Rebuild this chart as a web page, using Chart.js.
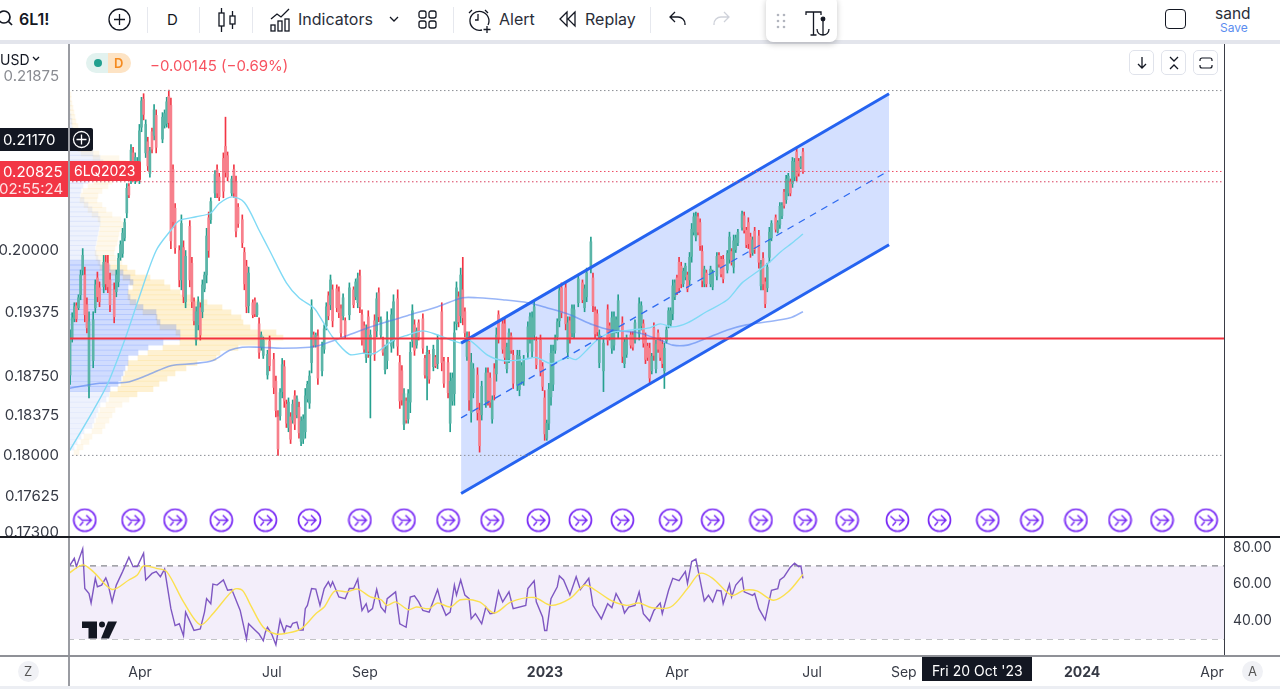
<!DOCTYPE html>
<html lang="en">
<head>
<meta charset="UTF-8">
<title>6L1! D</title>
<script src="https://cdn.jsdelivr.net/npm/chart.js@4"></script>
<style>
  html, body { margin: 0; padding: 0; background: #fff; overflow: hidden; }
  body { width: 1280px; height: 689px; position: relative; font-family: Inter, "Noto Sans", sans-serif; color: #131722; }
  canvas { position: absolute; display: block; }
  .t { position: absolute; white-space: nowrap; line-height: 1; }
  .box { position: absolute; }
  svg { position: absolute; overflow: visible; fill: none; stroke: #131722; stroke-width: 1.3; }
  .sep { position: absolute; top: 7px; width: 1px; height: 26px; background: #e6e8ee; }
  .btn { position: absolute; top: 50px; width: 25px; height: 25px; border: 1px solid #e0e3eb; border-radius: 5px; box-sizing: border-box; }
</style>
</head>
<body>
<canvas id="profile" width="1224" height="492" style="left:0;top:45px"></canvas>
<canvas id="main" width="1224" height="492" style="left:0;top:45px"></canvas>
<canvas id="rsi" width="1280" height="153" style="left:0;top:536px"></canvas>

<!-- top bar -->
<div class="box" style="left:0;top:40px;width:1280px;height:4px;background:#e3e5ec"></div>
<svg style="left:0;top:0" width="20" height="30"><circle cx="4" cy="17" r="6" stroke-width="1.7"/><path d="M8.500 21.500L12 25" stroke-width="1.7"/></svg>
<div class="t" style="left:19px;top:11px;font-size:16px;font-weight:600">6L1!</div>
<svg style="left:108px;top:8px" width="23" height="23"><circle cx="11.500" cy="11.500" r="10.500"/><path d="M11.500 6v11M6 11.500h11"/></svg>
<div class="sep" style="left:147px"></div>
<div class="t" style="left:167px;top:12px;font-size:15px">D</div>
<div class="sep" style="left:199px"></div>
<svg style="left:217px;top:7px" width="20" height="26"><rect x="2" y="6" width="5" height="13"/><path d="M4.500 1v5M4.500 19v6"/><rect x="13" y="9" width="5" height="8"/><path d="M15.500 4v5M15.500 17v5"/></svg>
<div class="sep" style="left:252px"></div>
<svg style="left:270px;top:8px" width="22" height="24"><path d="M1 11l6-5 4 3 8-8"/><rect x="1" y="17" width="4" height="6"/><rect x="8" y="13" width="4" height="10"/><rect x="15" y="11" width="4" height="12"/></svg>
<div class="t" style="left:298px;top:11px;font-size:16px;color:#2a2e39">Indicators</div>
<svg style="left:389px;top:16px" width="10" height="6"><path d="M1 1l4 4 4-4"/></svg>
<svg style="left:418px;top:10px" width="20" height="20"><rect x="1" y="1" width="7" height="7" rx="2"/><rect x="11" y="1" width="7" height="7" rx="2"/><rect x="1" y="11" width="7" height="7" rx="2"/><rect x="11" y="11" width="7" height="7" rx="2"/></svg>
<div class="sep" style="left:453px"></div>
<svg style="left:469px;top:8px" width="24" height="26"><path d="M13 22a9.500 9.500 0 1 1 6-5M3 2L0 5M16 2l3 3M9 6v6H6M18 18v7M14.500 21.500h7"/></svg>
<div class="t" style="left:499px;top:11px;font-size:16px;color:#2a2e39">Alert</div>
<svg style="left:559px;top:11px" width="18" height="16"><path d="M8 1L1 8l7 7zM16 1L9 8l7 7z"/></svg>
<div class="t" style="left:585px;top:11px;font-size:16px;color:#2a2e39">Replay</div>
<div class="sep" style="left:650px"></div>
<svg style="left:669px;top:11px" width="18" height="16"><path d="M6 1L1 6l5 5M1 6h8a7 7 0 0 1 7 7v1"/></svg>
<svg style="left:712px;top:11px" width="18" height="16"><path d="M12 1l5 5-5 5M17 6H9a7 7 0 0 0-7 7v1" stroke="#cfd2da"/></svg>
<div class="box" style="left:766px;top:-4px;width:71px;height:46px;background:#fff;border-radius:7px;box-shadow:0 2px 6px rgba(0,0,0,.22)"></div>
<svg style="left:776px;top:13px" width="10" height="16"><g fill="#b2b5be" stroke="none"><circle cx="2" cy="2" r="1.300"/><circle cx="8" cy="2" r="1.300"/><circle cx="2" cy="8" r="1.300"/><circle cx="8" cy="8" r="1.300"/><circle cx="2" cy="14" r="1.300"/><circle cx="8" cy="14" r="1.300"/></g></svg>
<svg style="left:805px;top:11px" width="25" height="26"><path d="M1 4V1h15v3M8.500 1v23M5.500 24h6M18 10v14M12 18c0 4 3 6 6 6s6-2 6-6"/><circle cx="18" cy="8" r="1.800" fill="#131722"/></svg>
<div class="box" style="left:1165px;top:9px;width:21px;height:20px;border:1.500px solid #131722;border-radius:4px;box-sizing:border-box"></div>
<div class="t" style="left:1215px;top:6px;font-size:15.500px;color:#2a2e39">sand</div>
<div class="t" style="left:1220px;top:22px;font-size:12px;color:#5b8def">Save</div>

<!-- main pane overlays -->
<div class="t" style="left:0;top:53px;font-size:14px;background:#fff;padding:0 3px 0 0">USD</div>
<svg style="left:32px;top:56px" width="8" height="5"><path d="M1 1l3 3 3-3"/></svg>
<div class="box" style="left:86px;top:53px;width:22px;height:20px;background:#e2f2ef;border-radius:10px 0 0 10px"></div>
<div class="box" style="left:108px;top:53px;width:23px;height:20px;background:#fde3c4;border-radius:0 10px 10px 0"></div>
<div class="box" style="left:94px;top:59px;width:8px;height:8px;background:#22a08f;border-radius:50%"></div>
<div class="t" style="left:114px;top:57px;font-size:13px;font-weight:600;color:#f58a1f">D</div>
<div class="t" style="left:150px;top:58px;font-size:15px;color:#f7525f">−0.00145 (−0.69%)</div>
<div class="btn" style="left:1129px"></div>
<svg style="left:1136px;top:57px" width="12" height="12"><path d="M6 0v11M2 7l4 4 4-4"/></svg>
<div class="btn" style="left:1161px"></div>
<svg style="left:1168px;top:56px" width="12" height="14"><path d="M2 1l4 4 4-4M2 13l4-4 4 4"/></svg>
<div class="btn" style="left:1193px"></div>
<svg style="left:1199px;top:57px" width="14" height="12"><path d="M1 4V3a2 2 0 0 1 2-2h8a2 2 0 0 1 2 2v1M1 8v1a2 2 0 0 0 2 2h8a2 2 0 0 0 2-2V8" stroke-width="1.200"/></svg>

<div class="box" style="left:0;top:128px;width:93px;height:23px;background:#131722;border-radius:0 2px 2px 0"></div>
<div class="t" style="left:3px;top:132px;font-size:15px;color:#fff">0.21170</div>
<div class="box" style="left:68px;top:128px;width:1px;height:23px;background:#555"></div>
<svg style="left:73px;top:131px" width="17" height="17"><g style="stroke:#fff"><circle cx="8.500" cy="8.500" r="8"/><path d="M8.500 3.500v10M3.500 8.500h10"/></g></svg>
<div class="box" style="left:0;top:161px;width:68px;height:36px;background:#f23645"></div>
<div class="box" style="left:69px;top:161px;width:72px;height:20px;background:#f23645;border-radius:0 2px 2px 0"></div>
<div class="t" style="left:3px;top:164px;font-size:15px;color:#fff">0.20825</div>
<div class="t" style="left:-1px;top:181px;font-size:15px;color:#fde1e4">02:55:24</div>
<div class="t" style="left:74px;top:164px;font-size:14px;color:#fff">6LQ2023</div>

<!-- watermark -->
<svg style="left:82px;top:621px" width="36" height="18"><g fill="#131722" stroke="#f3eefa" stroke-width="0"><path d="M0 0.500h15v17H6.500V7H0z"/><circle cx="20" cy="3.500" r="3"/><path d="M26 0.500h9l-8 17h-8z"/></g></svg>

<!-- frame -->
<div class="box" style="left:68px;top:44px;width:1.500px;height:645px;background:#9a9ca2"></div>
<div class="box" style="left:1224px;top:44px;width:1px;height:611px;background:#3a3d46"></div>
<div class="box" style="left:0;top:536px;width:1280px;height:1.500px;background:#1a1c22"></div>
<div class="box" style="left:0;top:655px;width:1280px;height:1.500px;background:#8f9197"></div>
<div class="box" style="left:0;top:686px;width:1280px;height:3px;background:#eceef3"></div>

<!-- bottom bar -->
<div class="box" style="left:18px;top:661px;width:21px;height:21px;border-radius:50%;background:#f0f1f5"></div>
<div class="t" style="left:24px;top:665px;font-size:13px;color:#555">Z</div>
<div class="box" style="left:1242px;top:661px;width:21px;height:21px;border-radius:50%;background:#f0f1f5"></div>
<div class="t" style="left:1248px;top:665px;font-size:13px;color:#555">A</div>
<div class="box" style="left:922px;top:657px;width:110px;height:24px;background:#131722"></div>
<div class="t" style="left:932px;top:664px;font-size:14px;color:#fff">Fri 20 Oct '23</div>

<script>
// price axis
const priceTicks = [0.21875, 0.2, 0.19375, 0.1875, 0.18375, 0.18, 0.17625, 0.173];
const priceMin = 0.1726, priceMax = 0.2223;
const lastSession = 550.5;

// time axis, in trading sessions from the left edge
const xTickSessions = [34.3, 97.1, 141.4, 227.1, 290, 354.3, 398, 482.9, 544.8];
const xTickLabels = ['Apr', 'Jul', 'Sep', '2023', 'Apr', 'Jul', 'Sep', '2024', 'Apr'];

// candles
const candleSession = [
1,2,3,4,5,6,7,8,9,10,12,13,14,15,17,18,19,20,22,23,
24,25,26,27,28,29,30,31,32,33,34,35,36,37,38,39,40,41,42,45,
46,47,48,49,50,51,53,54,55,56,58,59,60,61,62,63,64,65,66,67,
68,70,71,72,74,75,76,78,79,80,81,83,84,85,86,88,89,90,91,92,
93,95,96,98,99,100,101,102,103,104,105,106,107,108,109,110,111,112,113,114,
115,116,117,118,119,121,122,123,124,125,126,128,129,130,131,132,134,136,137,138,
139,140,141,142,143,144,146,147,148,149,150,151,152,154,155,157,158,159,160,161,
162,163,164,165,166,167,169,170,171,172,174,175,176,178,179,181,182,183,184,185,
186,187,188,189,190,191,192,193,195,196,197,199,200,201,202,203,204,205,207,208,
209,210,211,212,214,215,216,217,219,220,221,222,223,225,226,227,228,229,230,231,
232,233,234,235,237,238,239,240,241,243,245,246,247,249,250,251,252,253,255,257,
258,259,260,261,262,264,265,266,268,269,270,272,273,274,275,276,277,278,279,280,
281,282,283,284,285,286,287,288,289,290,291,292,293,294,295,296,297,298,299,300,
301,302,303,304,306,307,309,310,311,312,314,315,316,317,318,319,321,322,323,324,
325,326,327,329,330,331,332,333,334,335,337,338,339,340,341,342,343,344,345,346,
347,348,349,350];
const candleHigh = [
.1920,.1937,.1947,.1947,.1955,.1980,.2002,.1983,.1952,.1938,.1938,.1970,.1978,.1968,.1995,.1995,.1995,.1977,.1967,.1980,
.1997,.2010,.2023,.2033,.2070,.2070,.2112,.2109,.2103,.2098,.2134,.2164,.2168,.2139,.2120,.2109,.2130,.2156,.2150,.2147,
.2150,.2164,.2172,.2163,.2090,.2049,.2005,.2037,.2010,.2000,.2031,.1993,.1952,.1943,.1953,.1947,.1970,.1978,.2023,.2040,
.2055,.2084,.2090,.2081,.2103,.2142,.2104,.2078,.2090,.2078,.2049,.2037,.2003,.1990,.1983,.1950,.1952,.1947,.1932,.1918,
.1913,.1900,.1914,.1897,.1875,.1842,.1863,.1892,.1890,.1852,.1854,.1840,.1852,.1861,.1856,.1850,.1836,.1838,.1863,.1870,
.1880,.1950,.1918,.1917,.1920,.1908,.1925,.1947,.1958,.1975,.1965,.1965,.1963,.1945,.1956,.1932,.1967,.1963,.1971,.1977,
.1980,.1940,.1928,.1925,.1939,.1920,.1935,.1957,.1962,.1933,.1913,.1905,.1938,.1941,.1955,.1960,.1895,.1885,.1863,.1854,
.1862,.1908,.1945,.1930,.1922,.1930,.1936,.1895,.1904,.1900,.1905,.1895,.1915,.1947,.1893,.1893,.1878,.1878,.1928,.1968,
.1958,.1982,.1993,.1942,.1918,.1918,.1897,.1887,.1883,.1849,.1870,.1883,.1883,.1878,.1856,.1887,.1922,.1939,.1930,.1932,
.1907,.1921,.1917,.1900,.1900,.1900,.1888,.1895,.1928,.1937,.1938,.1948,.1913,.1915,.1888,.1861,.1833,.1868,.1905,.1905,
.1915,.1931,.1965,.1967,.1968,.1933,.1933,.1945,.1945,.1975,.1970,.1965,.1982,.2014,.1977,.1943,.1940,.1920,.1912,.1945,
.1927,.1938,.1938,.1933,.1955,.1933,.1912,.1915,.1918,.1918,.1930,.1952,.1948,.1930,.1917,.1907,.1907,.1897,.1927,.1910,
.1920,.1912,.1910,.1907,.1923,.1942,.1942,.1970,.1970,.1975,.1993,.1988,.1982,.1987,.1978,.1998,.2028,.2039,.2040,.2039,
.2033,.2005,.1984,.1980,.1984,.1980,.1998,.1998,.1994,.1995,.2000,.2019,.2002,.2016,.2016,.2022,.2041,.2040,.2024,.2034,
.2018,.2014,.2024,.2021,.1990,.1998,.1972,.1987,.2024,.2031,.2037,.2031,.2050,.2050,.2064,.2079,.2081,.2075,.2098,.2097,
.2109,.2097,.2099,.2108];
const candleLow = [
.1867,.1908,.1928,.1928,.1940,.1950,.1975,.1928,.1917,.1854,.1883,.1937,.1948,.1943,.1957,.1960,.1957,.1938,.1927,.1953,
.1963,.1990,.1993,.2010,.2034,.2055,.2070,.2073,.2070,.2073,.2070,.2126,.2139,.2098,.2084,.2077,.2103,.2117,.2103,.2114,
.2130,.2131,.2130,.2002,.2024,.1997,.1963,.1960,.1947,.1942,.1963,.1942,.1925,.1905,.1920,.1910,.1932,.1958,.1967,.1993,
.2028,.2055,.2055,.2052,.2055,.2077,.2073,.2057,.2055,.2014,.2024,.2003,.1960,.1937,.1937,.1932,.1933,.1933,.1892,.1900,
.1892,.1872,.1880,.1858,.1836,.1800,.1833,.1854,.1845,.1826,.1822,.1811,.1830,.1824,.1835,.1816,.1809,.1811,.1816,.1850,
.1844,.1878,.1903,.1903,.1867,.1875,.1897,.1920,.1930,.1940,.1923,.1938,.1932,.1913,.1930,.1912,.1930,.1942,.1950,.1942,
.1937,.1905,.1897,.1888,.1893,.1835,.1890,.1913,.1928,.1912,.1895,.1877,.1882,.1898,.1902,.1895,.1844,.1847,.1824,.1830,
.1830,.1840,.1903,.1895,.1902,.1910,.1897,.1873,.1852,.1868,.1880,.1883,.1882,.1880,.1864,.1854,.1822,.1847,.1847,.1920,
.1923,.1927,.1925,.1913,.1890,.1842,.1831,.1854,.1833,.1803,.1833,.1845,.1847,.1845,.1830,.1852,.1870,.1907,.1897,.1887,
.1878,.1888,.1897,.1863,.1861,.1856,.1867,.1866,.1893,.1907,.1893,.1910,.1882,.1875,.1861,.1814,.1814,.1824,.1847,.1861,
.1897,.1910,.1923,.1932,.1920,.1892,.1907,.1913,.1912,.1943,.1947,.1938,.1948,.1977,.1938,.1912,.1914,.1883,.1860,.1905,
.1910,.1897,.1900,.1917,.1912,.1888,.1883,.1893,.1902,.1900,.1907,.1910,.1920,.1903,.1887,.1890,.1868,.1877,.1890,.1878,
.1898,.1890,.1883,.1863,.1907,.1922,.1923,.1930,.1950,.1955,.1957,.1962,.1963,.1970,.1958,.1965,.1988,.2016,.2010,.2016,
.2000,.1963,.1963,.1963,.1963,.1960,.1970,.1983,.1973,.1967,.1977,.1987,.1985,.1977,.1998,.2005,.2021,.2018,.2003,.2002,
.1993,.1995,.1997,.1982,.1960,.1960,.1942,.1958,.1988,.2010,.2019,.2018,.2023,.2033,.2044,.2049,.2057,.2057,.2066,.2073,
.2073,.2078,.2086,.2081];
const candleOpen = [
.1876,.1912,.1931,.1944,.1942,.1955,.1980,.1975,.1945,.1865,.1890,.1942,.1972,.1962,.1963,.1988,.1987,.1970,.1960,.1958,
.1968,.1993,.1997,.2013,.2039,.2067,.2076,.2103,.2075,.2077,.2078,.2131,.2162,.2103,.2115,.2081,.2126,.2122,.2144,.2118,
.2133,.2135,.2165,.2155,.2085,.2044,.2000,.1970,.2003,.1948,.2025,.1987,.1948,.1910,.1925,.1942,.1938,.1961,.1975,.2034,
.2032,.2060,.2085,.2077,.2097,.2110,.2100,.2060,.2085,.2072,.2045,.2032,.1998,.1984,.1944,.1947,.1949,.1935,.1926,.1903,
.1895,.1876,.1909,.1891,.1870,.1836,.1837,.1860,.1884,.1848,.1826,.1836,.1833,.1856,.1838,.1845,.1813,.1815,.1822,.1853,
.1849,.1888,.1915,.1905,.1914,.1880,.1901,.1924,.1954,.1945,.1960,.1961,.1958,.1941,.1934,.1929,.1935,.1960,.1953,.1947,
.1974,.1935,.1924,.1893,.1933,.1895,.1929,.1919,.1957,.1915,.1910,.1881,.1890,.1904,.1909,.1951,.1888,.1880,.1829,.1851,
.1834,.1850,.1909,.1925,.1905,.1927,.1931,.1892,.1875,.1896,.1884,.1893,.1887,.1938,.1889,.1888,.1830,.1851,.1858,.1926,
.1953,.1934,.1960,.1938,.1894,.1908,.1840,.1859,.1876,.1842,.1838,.1850,.1878,.1873,.1834,.1882,.1877,.1935,.1926,.1926,
.1882,.1892,.1914,.1895,.1866,.1862,.1870,.1870,.1898,.1911,.1899,.1915,.1909,.1910,.1884,.1854,.1816,.1830,.1855,.1867,
.1900,.1913,.1929,.1962,.1962,.1898,.1929,.1917,.1917,.1947,.1967,.1942,.1953,.1982,.1972,.1939,.1936,.1888,.1880,.1940,
.1924,.1902,.1905,.1920,.1918,.1927,.1887,.1896,.1915,.1915,.1910,.1916,.1924,.1926,.1913,.1904,.1902,.1880,.1922,.1882,
.1917,.1909,.1906,.1880,.1909,.1925,.1926,.1936,.1953,.1972,.1988,.1984,.1966,.1973,.1975,.1970,.1994,.2019,.2014,.2035,
.2029,.1999,.1966,.1977,.1966,.1963,.1974,.1995,.1991,.1991,.1980,.1991,.1999,.1983,.2001,.2008,.2024,.2036,.2021,.2029,
.2014,.1998,.2020,.2015,.1964,.1992,.1968,.1962,.1993,.2013,.2034,.2020,.2027,.2036,.2061,.2053,.2060,.2072,.2070,.2077,
.2104,.2094,.2088,.2104];
const candleClose = [
.1912,.1932,.1943,.1931,.1952,.1975,.1995,.1935,.1922,.1928,.1930,.1965,.1953,.1948,.1988,.1966,.1963,.1945,.1933,.1975,
.1992,.2006,.2018,.2029,.2065,.2058,.2106,.2078,.2098,.2094,.2127,.2160,.2145,.2134,.2089,.2105,.2107,.2150,.2109,.2142,
.2146,.2159,.2136,.2010,.2030,.2003,.1970,.2028,.1953,.1994,.1970,.1948,.1929,.1938,.1948,.1915,.1965,.1975,.2015,.2000,
.2051,.2080,.2060,.2056,.2062,.2082,.2077,.2075,.2060,.2020,.2028,.2008,.1966,.1943,.1977,.1935,.1936,.1945,.1898,.1915,
.1910,.1896,.1885,.1864,.1842,.1806,.1859,.1886,.1851,.1830,.1850,.1815,.1848,.1829,.1853,.1821,.1832,.1834,.1856,.1867,
.1875,.1940,.1905,.1915,.1873,.1903,.1921,.1943,.1934,.1970,.1929,.1942,.1937,.1917,.1952,.1915,.1962,.1945,.1968,.1972,
.1943,.1910,.1901,.1920,.1899,.1915,.1896,.1951,.1933,.1930,.1898,.1901,.1930,.1935,.1948,.1904,.1851,.1852,.1858,.1833,
.1858,.1898,.1939,.1900,.1919,.1913,.1902,.1876,.1898,.1872,.1901,.1885,.1910,.1888,.1868,.1859,.1870,.1873,.1917,.1962,
.1928,.1975,.1932,.1917,.1914,.1852,.1888,.1882,.1840,.1809,.1865,.1878,.1852,.1850,.1852,.1857,.1915,.1911,.1901,.1893,
.1903,.1917,.1900,.1868,.1895,.1894,.1885,.1891,.1923,.1933,.1932,.1943,.1886,.1880,.1865,.1820,.1830,.1862,.1897,.1899,
.1912,.1928,.1959,.1937,.1926,.1927,.1911,.1941,.1940,.1971,.1950,.1961,.1977,.2009,.1944,.1916,.1918,.1915,.1907,.1910,
.1913,.1932,.1933,.1930,.1949,.1894,.1908,.1912,.1905,.1903,.1927,.1946,.1944,.1907,.1891,.1893,.1873,.1894,.1895,.1906,
.1901,.1893,.1887,.1902,.1920,.1939,.1939,.1964,.1967,.1958,.1962,.1966,.1979,.1984,.1961,.1993,.2022,.2035,.2036,.2019,
.2005,.1969,.1981,.1966,.1981,.1977,.1994,.1986,.1976,.1971,.1997,.2014,.1988,.2010,.2013,.2019,.2038,.2021,.2006,.2007,
.1997,.2011,.2001,.1988,.1986,.1966,.1946,.1983,.2019,.2028,.2022,.2029,.2046,.2047,.2047,.2075,.2078,.2060,.2094,.2093,
.2078,.2081,.2097,.2083];

// moving averages
const fastMaSession = [0,12,19,27,34,42,49,53,61,68,72,78,84,91,96,104,110,117,120,126,134,140,146,155,162,169,176,187,191,200,207,217,223,230,238,242,247,252,258,269,277,282,288,295,304,314,321,328,334,339,345,350];
const fastMaValue = [.1802,.1842,.1868,.1910,.1953,.2000,.2021,.2031,.2035,.2039,.2049,.2056,.2050,.2021,.2000,.1967,.1952,.1942,.1933,.1913,.1896,.1897,.1897,.1910,.1915,.1919,.1915,.1907,.1910,.1895,.1890,.1891,.1893,.1887,.1893,.1891,.1900,.1910,.1917,.1920,.1922,.1926,.1923,.1927,.1938,.1950,.1967,.1978,.1988,.1998,.2008,.2017];
const slowMaSession = [0,15,28,38,49,60,69,77,83,91,102,115,120,130,140,155,163,176,188,195,207,219,228,239,250,258,272,282,288,295,302,314,323,333,344,350];
const slowMaValue = [.1863,.1868,.1869,.1876,.1885,.1887,.1890,.1900,.1903,.1903,.1902,.1903,.1905,.1912,.1920,.1930,.1935,.1943,.1952,.1952,.1950,.1947,.1942,.1935,.1925,.1920,.1917,.1910,.1905,.1905,.1910,.1920,.1925,.1928,.1932,.1938];

// regression channel
const channelSession = [187.2, 391];
const channelTop = [.1907, .2168];
const channelMid = [.1835, .2084];
const channelBottom = [.1765, .2006];

// horizontal levels
const levelSpan = [0, lastSession];
const dottedGrayLevels = [.21715, .18];
const dottedRedLevels = [.2083, .2072];
const supportLevel = .19115;

// event markers along the bottom of the pane
const eventSessions = [8,31,51,73,94,115,139,160,181,202,224,244,264,287,307,330,351,371,395,415,438,459,480,501,521,542];
const eventPrice = .1741;

// volume profile rows
const profilePrice = [
.2170,.2165,.2160,.2155,.2150,.2145,.2140,.2135,.2130,.2125,.2120,.2115,.2110,.2105,.2100,.2095,.2090,.2085,.2080,.2075,
.2070,.2065,.2060,.2055,.2050,.2045,.2040,.2035,.2030,.2025,.2020,.2015,.2010,.2005,.2000,.1995,.1990,.1985,.1980,.1975,
.1970,.1965,.1960,.1955,.1950,.1945,.1940,.1935,.1930,.1925,.1920,.1915,.1910,.1905,.1900,.1895,.1890,.1885,.1880,.1875,
.1870,.1865,.1860,.1855,.1850,.1845,.1840,.1835,.1830,.1825,.1820,.1815,.1810,.1805];
const profileUp = [
1,1,1,2,2,2,3,4,4,5,6,8,10,13,25,32,35,33,30,26,
20,15,13,12,16,20,24,30,32,32,31,30,29,28,27,28,30,32,42,55,
62,65,60,60,62,68,75,88,89,92,108,112,112,95,80,70,60,60,57,55,
53,50,42,41,38,32,30,28,26,24,16,13,9,6];
const profileDown = [
2,2,3,3,4,5,5,6,7,8,9,11,14,18,26,26,25,22,20,18,
20,19,17,17,18,18,20,23,23,22,20,20,20,19,19,20,24,27,25,27,
34,37,52,65,77,86,88,85,86,90,100,103,87,75,72,78,69,58,50,44,
38,35,27,20,16,15,14,13,11,10,8,8,6,5];

// RSI pane
const rsiSession = [0,3,4,7,8,10,11,13,14,16,18,19,21,23,26,29,31,33,36,37,40,42,44,46,49,51,53,55,56,59,60,63,65,66,68,69,71,74,76,78,81,82,85,86,89,91,93,94,95,97,99,101,103,104,106,107,109,110,112,113,114,116,118,120,122,124,125,126,129,132,134,136,138,139,140,142,143,145,147,149,151,152,156,158,161,163,165,167,169,172,176,178,180,182,184,185,187,189,191,192,194,197,199,201,203,205,207,210,212,218,219,222,223,226,227,228,230,233,234,236,239,242,244,248,250,254,257,259,261,264,265,267,270,272,274,277,279,282,283,286,288,291,294,295,297,299,301,303,305,307,309,311,312,315,316,318,321,322,326,327,329,332,335,338,339,341,344,346,348,349,350];
const rsiValue = [68.7,74.2,69.6,79.4,57.6,54.9,49.7,63.2,58.6,59.5,63.5,60.4,50.3,59.5,66.9,74.8,69.6,69.6,77.0,62.3,65.9,66.9,64.1,68.2,46.6,37.3,38.3,31.8,44.7,37.3,34.6,35.5,44.7,52.1,49.3,60.0,59.5,62.3,56.7,57.1,48.4,45.6,30.0,38.3,34.9,32.7,29.0,33.7,36.4,32.7,26.8,40.5,33.7,37.3,36.4,38.6,39.2,34.9,34.9,46.6,48.4,57.6,57.3,48.4,57.6,61.3,58.6,61.3,53.0,52.1,57.6,57.6,62.8,53.0,45.6,49.3,44.7,46.6,57.1,47.5,44.7,52.1,55.8,38.3,36.4,53.0,53.6,50.3,45.6,44.7,57.1,48.4,42.9,44.7,59.5,54.0,62.3,54.0,52.1,41.0,43.8,38.3,47.5,43.8,44.2,56.2,50.3,55.8,46.6,48.4,57.6,61.9,50.3,42.0,34.6,34.6,52.1,58.6,64.5,62.3,54.0,64.1,57.1,63.2,48.4,41.0,49.3,47.1,54.9,48.4,44.2,47.5,48.4,55.8,43.8,39.8,45.6,49.7,43.8,56.7,63.2,61.9,66.9,60.4,72.4,73.7,62.3,50.8,53.9,50.3,56.7,56.3,49.3,60.0,53.0,59.5,63.5,55.8,53.9,54.9,46.6,40.5,56.7,57.6,62.3,64.1,69.3,71.5,69.6,70.0,63.2];
const rsiMaSession = [0,7,12,21,29,33,36,42,47,55,63,69,79,83,87,93,99,104,111,118,122,127,133,138,144,149,152,156,162,166,172,176,182,187,196,203,211,222,230,239,246,250,259,266,272,278,287,295,301,307,316,322,328,336,343,350];
const rsiMaValue = [65.6,70.6,66.9,57.1,62.3,65.0,70.0,68.7,66.9,50.3,37.7,43.8,57.1,56.7,48.4,36.4,32.7,33.1,35.5,43.8,47.5,56.2,55.8,57.3,53.0,51.5,48.4,50.3,46.0,47.5,46.6,49.7,47.5,51.5,50.3,44.2,50.3,52.7,48.4,52.1,59.5,57.6,50.8,48.4,49.7,47.1,47.5,57.6,65.9,63.2,53.9,56.7,56.3,51.2,55.8,65.4];
const rsiLevels = [70, 50, 30];
const rsiTicks = [80, 60, 40];

const FONT = 'Inter, "Noto Sans", sans-serif';
const zip = (xs, ys) => xs.map((x, i) => ({ x, y: ys[i] }));

function flatLine(value, color, dash, width) {
  return { type: 'line', data: zip(levelSpan, [value, value]), borderColor: color, borderDash: dash, borderWidth: width, pointRadius: 0, order: 1 };
}

// little circled arrow used as marker image
function eventIcon() {
  const c = document.createElement('canvas');
  c.width = 25; c.height = 25;
  const g = c.getContext('2d');
  g.strokeStyle = '#7a2cf5';
  g.lineWidth = 1.7;
  g.beginPath(); g.arc(12.5, 12.5, 11, 0, Math.PI * 2); g.stroke();
  g.lineWidth = 1.5;
  g.beginPath();
  g.moveTo(5.5, 8.5); g.lineTo(10, 12.5); g.lineTo(19, 12.5);
  g.moveTo(14, 7.5); g.lineTo(19, 12.5); g.lineTo(14, 17.5);
  g.moveTo(7.5, 18); g.lineTo(11, 14);
  g.stroke();
  return c;
}

// profile sits under the main canvas
const inValueArea = p => p >= .1860 && p <= .1985;
new Chart(document.getElementById('profile'), {
  type: 'bar',
  data: {
    datasets: [
      {
        data: profilePrice.map((p, i) => ({ x: profileUp[i], y: p })),
        backgroundColor: profilePrice.map(p => inValueArea(p) ? 'rgba(60,110,250,.24)' : 'rgba(90,130,240,.1)'),
        barThickness: 5.2
      },
      {
        data: profilePrice.map((p, i) => ({ x: profileDown[i], y: p })),
        backgroundColor: profilePrice.map(p => inValueArea(p) ? 'rgba(252,200,80,.26)' : 'rgba(250,205,110,.14)'),
        barThickness: 5.2
      }
    ]
  },
  options: {
    indexAxis: 'y',
    responsive: false,
    animation: false,
    devicePixelRatio: 1,
    layout: { padding: { left: 68 }, autoPadding: false },
    plugins: { legend: { display: false }, tooltip: { enabled: false } },
    scales: {
      x: { type: 'linear', stacked: true, display: false, min: 0, max: 1156 },
      y: { type: 'logarithmic', display: false, min: priceMin, max: priceMax, bounds: 'data' }
    }
  }
});

const bodyColors = candleOpen.map((o, i) => candleClose[i] >= o ? '#5bb5a8' : '#f7808c');
const wickColors = candleOpen.map((o, i) => candleClose[i] >= o ? '#26a08f' : '#f23645');

new Chart(document.getElementById('main'), {
  data: {
    datasets: [
      // channel fill
      { type: 'line', data: zip(channelSession, channelTop), borderWidth: 0, pointRadius: 0, fill: '+1', backgroundColor: 'rgba(41,98,255,.2)', order: 9 },
      { type: 'line', data: zip(channelSession, channelBottom), borderWidth: 0, pointRadius: 0, order: 9 },
      // candles
      { type: 'bar', data: candleSession.map((s, i) => ({ x: s, y: [candleLow[i], candleHigh[i]] })), backgroundColor: wickColors, barThickness: 1, grouped: false, order: 6 },
      { type: 'bar', data: candleSession.map((s, i) => ({ x: s, y: [candleOpen[i], candleClose[i]] })), backgroundColor: bodyColors, barThickness: 2, grouped: false, order: 5 },
      // moving averages
      { type: 'line', data: zip(fastMaSession, fastMaValue), borderColor: '#80daf5', borderWidth: 1.4, pointRadius: 0, tension: .3, order: 4 },
      { type: 'line', data: zip(slowMaSession, slowMaValue), borderColor: 'rgba(70,120,240,.55)', borderWidth: 1.6, pointRadius: 0, tension: .3, order: 4 },
      // channel lines
      { type: 'line', data: zip(channelSession, channelTop), borderColor: '#2563f0', borderWidth: 3, pointRadius: 0, order: 2 },
      { type: 'line', data: zip(channelSession, channelMid), borderColor: '#2f6bf0', borderWidth: 1.3, borderDash: [7, 6], pointRadius: 0, order: 2 },
      { type: 'line', data: zip(channelSession, channelBottom), borderColor: '#2563f0', borderWidth: 3, pointRadius: 0, order: 2 },
      // levels
      flatLine(dottedGrayLevels[0], '#8a8d94', [1.5, 2.5], 1),
      flatLine(dottedGrayLevels[1], '#8a8d94', [1.5, 2.5], 1),
      flatLine(dottedRedLevels[0], '#ee4a62', [1.5, 2.5], 1),
      flatLine(dottedRedLevels[1], '#d8405f', [1.5, 2.5], 1),
      flatLine(supportLevel, '#f4323f', [], 2),
      // events
      { type: 'line', showLine: false, data: eventSessions.map(s => ({ x: s, y: eventPrice })), pointStyle: eventIcon(), order: 0 }
    ]
  },
  options: {
    responsive: false,
    animation: false,
    devicePixelRatio: 1,
    layout: { autoPadding: false },
    plugins: { legend: { display: false }, tooltip: { enabled: false } },
    scales: {
      x: { type: 'linear', display: false, min: 0, max: lastSession, offset: false },
      y: {
        type: 'logarithmic',
        min: priceMin,
        max: priceMax,
        bounds: 'data',
        grid: { display: false, drawTicks: false },
        border: { display: false },
        afterBuildTicks: s => { s.ticks = priceTicks.map(value => ({ value })); },
        afterFit: s => { s.width = 68; s.paddingTop = 0; s.paddingBottom = 0; },
        ticks: {
          autoSkip: false,
          padding: 9,
          color: ctx => ctx.tick.value > .218 ? '#8a8c92' : '#363a45',
          font: { family: FONT, size: 15 },
          callback: v => v.toFixed(5)
        }
      }
    }
  }
});

new Chart(document.getElementById('rsi'), {
  data: {
    datasets: [
      { type: 'line', data: zip(levelSpan, [rsiLevels[0], rsiLevels[0]]), borderColor: '#85878d', borderWidth: 1.2, borderDash: [6, 5], pointRadius: 0, fill: '+1', backgroundColor: '#f3eefa', order: 5 },
      { type: 'line', data: zip(levelSpan, [rsiLevels[2], rsiLevels[2]]), borderColor: '#85878d', borderWidth: 1.2, borderDash: [6, 5], pointRadius: 0, order: 5 },
      { type: 'line', data: zip(levelSpan, [rsiLevels[1], rsiLevels[1]]), borderColor: '#b9bbc0', borderWidth: 1.2, borderDash: [6, 5], pointRadius: 0, order: 5 },
      { type: 'line', data: zip(rsiSession, rsiValue), borderColor: '#7e57c2', borderWidth: 1.4, pointRadius: 0, order: 2 },
      { type: 'line', data: zip(rsiMaSession, rsiMaValue), borderColor: '#fbe04f', borderWidth: 1.4, pointRadius: 0, tension: .3, order: 1 }
    ]
  },
  options: {
    responsive: false,
    animation: false,
    devicePixelRatio: 1,
    layout: { padding: { left: 68 }, autoPadding: false },
    plugins: { legend: { display: false }, tooltip: { enabled: false } },
    scales: {
      x: {
        type: 'linear',
        min: 0,
        max: lastSession,
        grid: { display: false, drawTicks: false },
        border: { display: false },
        afterBuildTicks: s => { s.ticks = xTickSessions.map(value => ({ value })); },
        afterFit: s => { s.height = 34; s.paddingLeft = 0; s.paddingRight = 0; },
        ticks: {
          autoSkip: false,
          maxRotation: 0,
          padding: 9,
          color: '#363a45',
          font: ctx => ({ family: FONT, size: 14, weight: String(xTickLabels[ctx.index]).startsWith('20') ? 'bold' : 'normal' }),
          callback: (v, i) => xTickLabels[i]
        }
      },
      y: {
        position: 'right',
        min: 21.2,
        max: 86.4,
        grid: { display: false, drawTicks: false },
        border: { display: false },
        afterBuildTicks: s => { s.ticks = rsiTicks.map(value => ({ value })); },
        afterFit: s => { s.width = 56; s.paddingTop = 0; s.paddingBottom = 0; },
        ticks: {
          autoSkip: false,
          padding: 9,
          color: '#363a45',
          font: { family: FONT, size: 14 },
          callback: v => v.toFixed(2)
        }
      }
    }
  }
});
</script>
</body>
</html>
